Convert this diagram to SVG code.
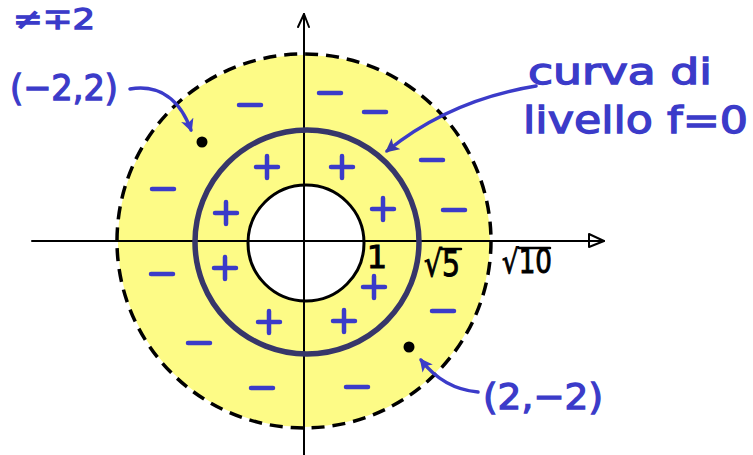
<svg xmlns="http://www.w3.org/2000/svg" xmlns:xlink="http://www.w3.org/1999/xlink" width="753" height="455" viewBox="0 0 753 455">
<style>
.blue{fill:#3b3bc9;stroke:#3b3bc9;stroke-width:1.3;font-family:"DejaVu Sans",sans-serif}
.blk{fill:#000;stroke:#000;stroke-width:1;font-family:"DejaVu Sans",sans-serif}
.sign{stroke:#3b3bc9;stroke-width:4.5;stroke-linecap:round;fill:none}
.axis{stroke:#000;stroke-width:2;fill:none;stroke-linecap:round;stroke-linejoin:round}
.conn{stroke:#3b3bc9;stroke-width:3.5;fill:none;stroke-linecap:round}
.bar{stroke:#000;stroke-width:2.5;stroke-linecap:round}
</style>
<defs>
<path id="plus" d="M -11 0 H 11 M 0 -11 V 11"/>
<path id="minus" d="M -11 0 H 11"/>
<marker id="ah" viewBox="0 0 12 12" refX="10" refY="6" markerWidth="13" markerHeight="13" markerUnits="userSpaceOnUse" orient="auto">
<path d="M0,0 L12,6 L0,12 L3,6 Z" fill="#3b3bc9"/>
</marker>
<marker id="ah2" viewBox="0 0 12 12" refX="10" refY="6" markerWidth="14" markerHeight="14" markerUnits="userSpaceOnUse" orient="auto">
<path d="M0,0 L12,6 L0,12 L3,6 Z" fill="#3a3aa8"/>
</marker>
</defs>
<rect width="753" height="455" fill="#fff"/>

<g id="region">
<circle cx="304" cy="241" r="186" fill="#fdfb86"/>
<circle cx="306" cy="243" r="58" fill="#fff"/>
</g>

<g id="axes">
<path class="axis" d="M 32 241 H 604"/>
<path class="axis" d="M 589 234 L 604 241 L 589 247 Z"/>
<path class="axis" d="M 304 455 V 14"/>
<path class="axis" d="M 298 27 L 304 14 L 309 27"/>
</g>

<g id="circle-inner">
<circle cx="306" cy="243" r="58" fill="none" stroke="#000" stroke-width="3"/>
</g>
<g id="curve-level-f0">
<circle cx="307" cy="242" r="112" fill="none" stroke="#37366a" stroke-width="5.5"/>
</g>
<g id="circle-outer">
<circle cx="304" cy="241" r="187" fill="none" stroke="#000" stroke-width="3.5" stroke-dasharray="13 8"/>
</g>

<g id="signs-plus" class="sign">
<use xlink:href="#plus" x="267" y="167"/>
<use xlink:href="#plus" x="342" y="167"/>
<use xlink:href="#plus" x="226" y="213"/>
<use xlink:href="#plus" x="383" y="209"/>
<use xlink:href="#plus" x="225" y="268"/>
<use xlink:href="#plus" x="374" y="287"/>
<use xlink:href="#plus" x="269" y="322"/>
<use xlink:href="#plus" x="344" y="321"/>
</g>
<g id="signs-minus" class="sign">
<use xlink:href="#minus" x="250" y="105"/>
<use xlink:href="#minus" x="330" y="93"/>
<use xlink:href="#minus" x="375" y="112"/>
<use xlink:href="#minus" x="432" y="160"/>
<use xlink:href="#minus" x="163" y="189"/>
<use xlink:href="#minus" x="454" y="210"/>
<use xlink:href="#minus" x="162" y="274"/>
<use xlink:href="#minus" x="443" y="311"/>
<use xlink:href="#minus" x="199" y="343"/>
<use xlink:href="#minus" x="262" y="388"/>
<use xlink:href="#minus" x="357" y="387"/>
</g>

<g id="point-m2-2">
<circle cx="202" cy="142" r="5.5" fill="#000"/>
</g>
<g id="point-2-m2">
<circle cx="409" cy="347" r="5.5" fill="#000"/>
</g>

<g id="connectors">
<path class="conn" d="M 130 89 C 160 84 180 100 191 130" marker-end="url(#ah)"/>
<path class="conn" d="M 536 86 Q 450 100 387 151" stroke="#3a3aa8" marker-end="url(#ah2)"/>
<path class="conn" d="M 478 392 C 455 390 435 378 421 360" marker-end="url(#ah)"/>
</g>

<g id="label-cond">
<text class="blue" x="13" y="29" font-size="29" textLength="82" lengthAdjust="spacingAndGlyphs">≠∓2</text>
</g>
<g id="label-m2-2">
<text class="blue" x="10" y="100" font-size="36" textLength="108" lengthAdjust="spacingAndGlyphs">(−2,2)</text>
</g>
<g id="label-2-m2">
<text class="blue" x="483" y="409" font-size="36" textLength="120" lengthAdjust="spacingAndGlyphs">(2,−2)</text>
</g>
<g id="label-curva">
<text class="blue" x="528" y="84" font-size="35" textLength="184" lengthAdjust="spacingAndGlyphs">curva di</text>
<text class="blue" x="523" y="133" font-size="38" textLength="225" lengthAdjust="spacingAndGlyphs">livello f=0</text>
</g>

<g id="axis-labels">
<text class="blk" x="377" y="268" font-size="32" text-anchor="middle">1</text>
<text class="blk" x="424" y="276" font-size="36" textLength="36" lengthAdjust="spacingAndGlyphs">√5</text>
<line class="bar" x1="441" y1="249" x2="461" y2="249"/>
<text class="blk" x="502" y="273" font-size="33" textLength="50" lengthAdjust="spacingAndGlyphs">√10</text>
<line class="bar" x1="519" y1="248" x2="550" y2="248"/>
</g>
</svg>
